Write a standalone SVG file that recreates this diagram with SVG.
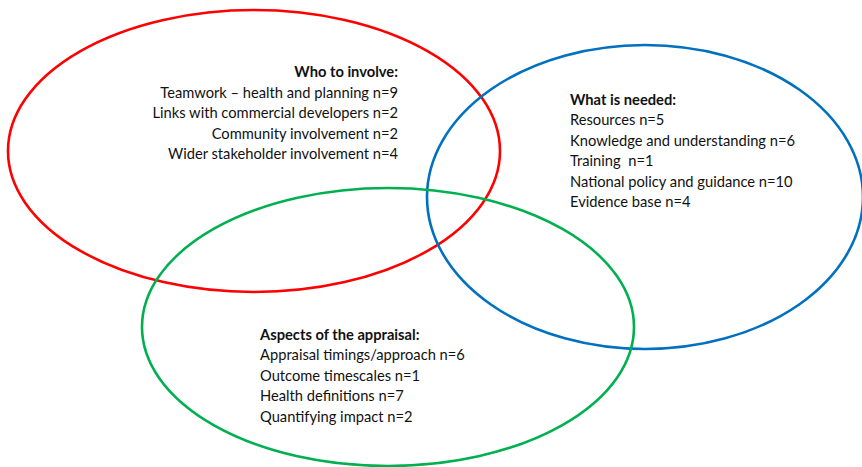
<svg xmlns="http://www.w3.org/2000/svg" width="862" height="467" viewBox="0 0 862 467">
  <style>
    .set { fill: none; stroke-width: 2.6; }
    .red { stroke: #FF0000; }
    .blue { stroke: #0070C0; }
    .green { stroke: #00B050; }
    text { font-family: Lato, "Open Sans", "Liberation Sans", sans-serif; font-size: 14.7px; fill: #111111; white-space: pre; }
    .head { font-weight: bold; }
    .right { text-anchor: end; }
  </style>
  <rect width="862" height="467" fill="#FFFFFF"/>

  <g id="connectors">
    <ellipse class="set red" cx="254" cy="151" rx="246" ry="141"/>
    <ellipse class="set blue" cx="645" cy="197" rx="218" ry="152"/>
    <ellipse class="set green" cx="388" cy="327" rx="246" ry="139"/>
  </g>

  <g id="who-to-involve">
    <text class="head right" x="398" y="77">Who to involve:</text>
    <text class="right" x="398" y="98">Teamwork – health and planning n=9</text>
    <text class="right" x="398" y="118">Links with commercial developers n=2</text>
    <text class="right" x="398" y="139">Community involvement n=2</text>
    <text class="right" x="398" y="159">Wider stakeholder involvement n=4</text>
  </g>

  <g id="what-is-needed">
    <text class="head" x="570" y="105">What is needed:</text>
    <text x="570" y="125">Resources n=5</text>
    <text x="570" y="146">Knowledge and understanding n=6</text>
    <text x="570" y="166" xml:space="preserve">Training  n=1</text>
    <text x="570" y="187">National policy and guidance n=10</text>
    <text x="570" y="207">Evidence base n=4</text>
  </g>

  <g id="aspects-of-appraisal">
    <text class="head" x="260" y="340">Aspects of the appraisal:</text>
    <text x="260" y="360">Appraisal timings/approach n=6</text>
    <text x="260" y="381">Outcome timescales n=1</text>
    <text x="260" y="401">Health definitions n=7</text>
    <text x="260" y="422">Quantifying impact n=2</text>
  </g>
</svg>
